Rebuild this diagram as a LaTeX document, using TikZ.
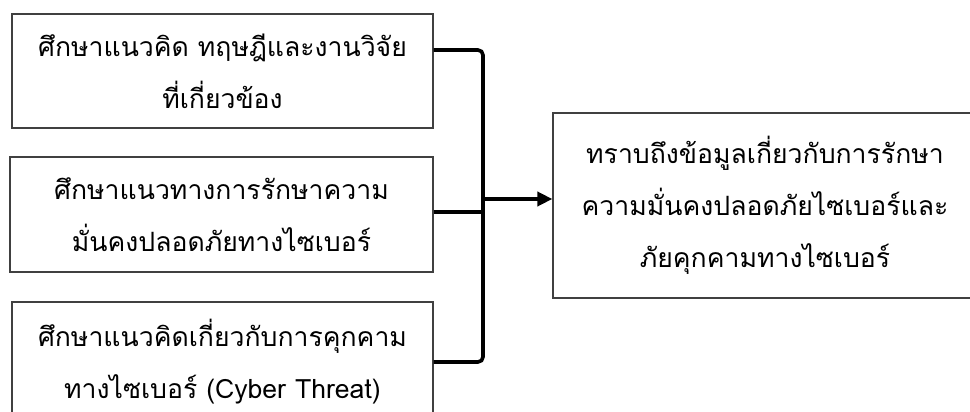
\documentclass[tikz,border=0pt]{standalone}
\usepackage{fontspec}
\newfontfamily\thaifont[Script=Thai]{Loma}
\usetikzlibrary{arrows.meta}
\begin{document}
\begin{tikzpicture}[x=1pt,y=-1pt,
  box/.style={draw=black!75, line width=1.2pt, inner sep=0pt, align=center,
    font=\thaifont\fontsize{26.6}{52}\selectfont},
  link/.style={line width=3.6pt, rounded corners=5pt},
  arrowlink/.style={line width=3.6pt, -{Triangle[length=15pt,width=14pt]}},
]
\clip (0,0) rectangle (970,412);
\fill[white] (0,0) rectangle (970,412);
\node[box, minimum width=421pt, minimum height=114pt] (b1) at (222.5,71)
  {ศึกษาแนวคิด ทฤษฎีและงานวิจัย\\ที่เกี่ยวข้อง};
\node[box, minimum width=423pt, minimum height=115pt] (b2) at (221.5,214.5)
  {ศึกษาแนวทางการรักษาความ\\มั่นคงปลอดภัยทางไซเบอร์};
\node[box, minimum width=421pt, minimum height=120pt] (b3) at (222.5,362)
  {ศึกษาแนวคิดเกี่ยวกับการคุกคาม\\ทางไซเบอร์ (Cyber Threat)};
\node[box, minimum width=424pt, minimum height=185pt] (b4) at (765,205.5)
  {ทราบถึงข้อมูลเกี่ยวกับการรักษา\\ความมั่นคงปลอดภัยไซเบอร์และ\\ภัยคุกคามทางไซเบอร์};
\coordinate (j) at (483,199);
\draw[link] ([yshift=21pt]b1.east) -| (j |- b3.east) -- (b3.east);
\draw[link] ([yshift=2.5pt]b2.east) -- ([yshift=2.5pt]b2.east -| j);
\draw[arrowlink] (j) -- (j -| b4.west);
\end{tikzpicture}
\end{document}
